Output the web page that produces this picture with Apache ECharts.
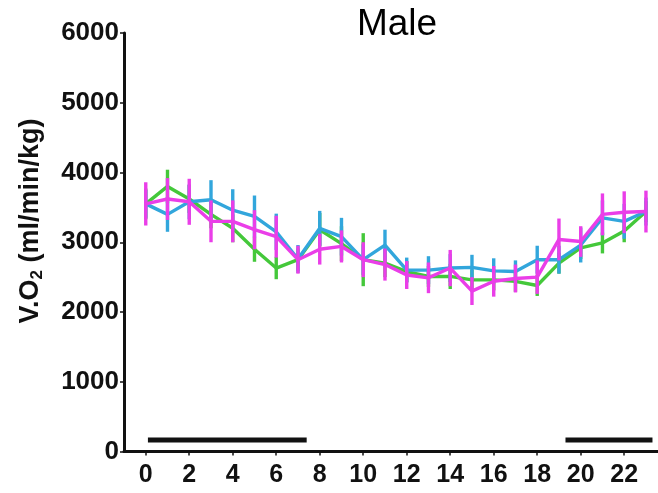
<!DOCTYPE html>
<html>
<head>
<meta charset="utf-8">
<script src="https://cdn.jsdelivr.net/npm/echarts@6/dist/echarts.min.js"></script>
<style>
  html, body { margin: 0; padding: 0; background: #fff; }
  #chart { width: 658px; height: 493px; }
</style>
</head>
<body>
<div id="chart"></div>
<script>
// Hour of day (zeitgeber time)
var hours = [0,1,2,3,4,5,6,7,8,9,10,11,12,13,14,15,16,17,18,19,20,21,22,23];
var xTicks = [0,2,4,6,8,10,12,14,16,18,20,22];

// VO2 means (ml/min/kg) per group
var greenMean   = [3550,3800,3620,3400,3200,2900,2630,2750,3180,2980,2750,2700,2580,2510,2510,2460,2460,2440,2380,2700,2920,2990,3160,3440];
var blueMean    = [3550,3400,3580,3610,3460,3370,3150,2760,3200,3080,2750,2960,2600,2600,2630,2640,2590,2580,2750,2750,2960,3350,3300,3440];
var magentaMean = [3550,3620,3580,3300,3300,3180,3080,2750,2900,2940,2750,2680,2530,2490,2630,2300,2440,2480,2500,3040,3010,3400,3430,3440];

// Error bar half-lengths (SEM)
var greenErr   = [220,240,200,200,200,180,160,160,240,250,380,200,150,150,180,150,150,150,150,150,160,150,160,150];
var blueErr    = [200,250,250,280,300,300,260,200,250,270,220,220,180,200,200,180,180,160,200,200,250,250,250,200];
var magentaErr = [310,300,330,300,300,280,300,200,220,230,250,230,200,220,260,200,220,200,240,300,220,300,300,300];

// Dark-phase bars
var darkPhases = [[0.1, 7.4], [19.3, 23.3]];
var darkLevel = 165;

var colors = { green: '#44c83a', blue: '#32a6dc', magenta: '#ea3ee8' };
var boldFont = 'Liberation Sans, Arial, sans-serif';

function pairs(xs, ys) {
  return xs.map(function (x, i) { return [x, ys[i]]; });
}
function errData(xs, m, e) {
  return xs.map(function (x, i) { return [x, m[i] - e[i], m[i] + e[i]]; });
}
function errSeries(data, color, z) {
  return {
    type: 'custom',
    z: z,
    data: data,
    renderItem: function (params, api) {
      var lo = api.coord([api.value(0), api.value(1)]);
      var hi = api.coord([api.value(0), api.value(2)]);
      return {
        type: 'line',
        shape: { x1: lo[0], y1: lo[1], x2: hi[0], y2: hi[1] },
        style: { stroke: color, lineWidth: 3.4 }
      };
    }
  };
}
function lineSeries(data, color, z) {
  return {
    type: 'line',
    data: data,
    z: z,
    symbol: 'none',
    lineStyle: { color: color, width: 3.4 }
  };
}

var series = [
  lineSeries(pairs(hours, greenMean), colors.green, 2),
  errSeries(errData(hours, greenMean, greenErr), colors.green, 2),
  lineSeries(pairs(hours, blueMean), colors.blue, 3),
  errSeries(errData(hours, blueMean, blueErr), colors.blue, 3),
  lineSeries(pairs(hours, magentaMean), colors.magenta, 4),
  errSeries(errData(hours, magentaMean, magentaErr), colors.magenta, 4)
];
darkPhases.forEach(function (p) {
  series.push({
    type: 'line',
    data: [[p[0], darkLevel], [p[1], darkLevel]],
    symbol: 'none',
    z: 5,
    lineStyle: { color: '#111', width: 5, cap: 'butt' }
  });
});

var chart = echarts.init(document.getElementById('chart'), null, { renderer: 'canvas' });
chart.setOption({
  animation: false,
  backgroundColor: '#fff',
  grid: { left: 124, top: 33, width: 535, height: 418.5, containLabel: false, outerBoundsMode: 'none' },
  xAxis: {
    type: 'value',
    min: -1,
    max: 23.6,
    axisLine: { show: true, onZero: false, lineStyle: { color: '#111', width: 3 } },
    axisTick: { show: true, customValues: xTicks, length: 4, lineStyle: { color: '#111', width: 1.5 } },
    axisLabel: {
      customValues: xTicks,
      margin: 11,
      color: '#111',
      fontSize: 25,
      fontWeight: 'bold',
      fontFamily: boldFont
    },
    splitLine: { show: false }
  },
  yAxis: {
    type: 'value',
    min: 0,
    max: 6000,
    interval: 1000,
    axisLine: { show: true, onZero: false, lineStyle: { color: '#111', width: 3 } },
    axisTick: { show: true, length: 4, lineStyle: { color: '#111', width: 1.5 } },
    axisLabel: {
      margin: 5,
      color: '#111',
      fontSize: 26,
      fontWeight: 'bold',
      fontFamily: boldFont,
      formatter: function (v) { return String(v); }
    },
    splitLine: { show: false }
  },
  graphic: [
    {
      type: 'text',
      x: 397,
      y: 25,
      style: {
        text: 'Male',
        fill: '#000',
        font: '37px "Liberation Sans", Arial, sans-serif',
        textAlign: 'center',
        textVerticalAlign: 'middle'
      }
    },
    {
      type: 'text',
      x: 31,
      y: 221,
      rotation: Math.PI / 2,
      style: {
        text: '{a|V.O}{s|2}{a| (ml/min/kg)}',
        align: 'center',
        verticalAlign: 'middle',
        rich: {
          a: { fontSize: 27, fontWeight: 'bold', fill: '#111', fontFamily: boldFont, verticalAlign: 'middle' },
          s: { fontSize: 17, fontWeight: 'bold', fill: '#111', fontFamily: boldFont, verticalAlign: 'bottom', padding: [12, 0, 0, 0] }
        }
      }
    }
  ],
  series: series
});
</script>
</body>
</html>
